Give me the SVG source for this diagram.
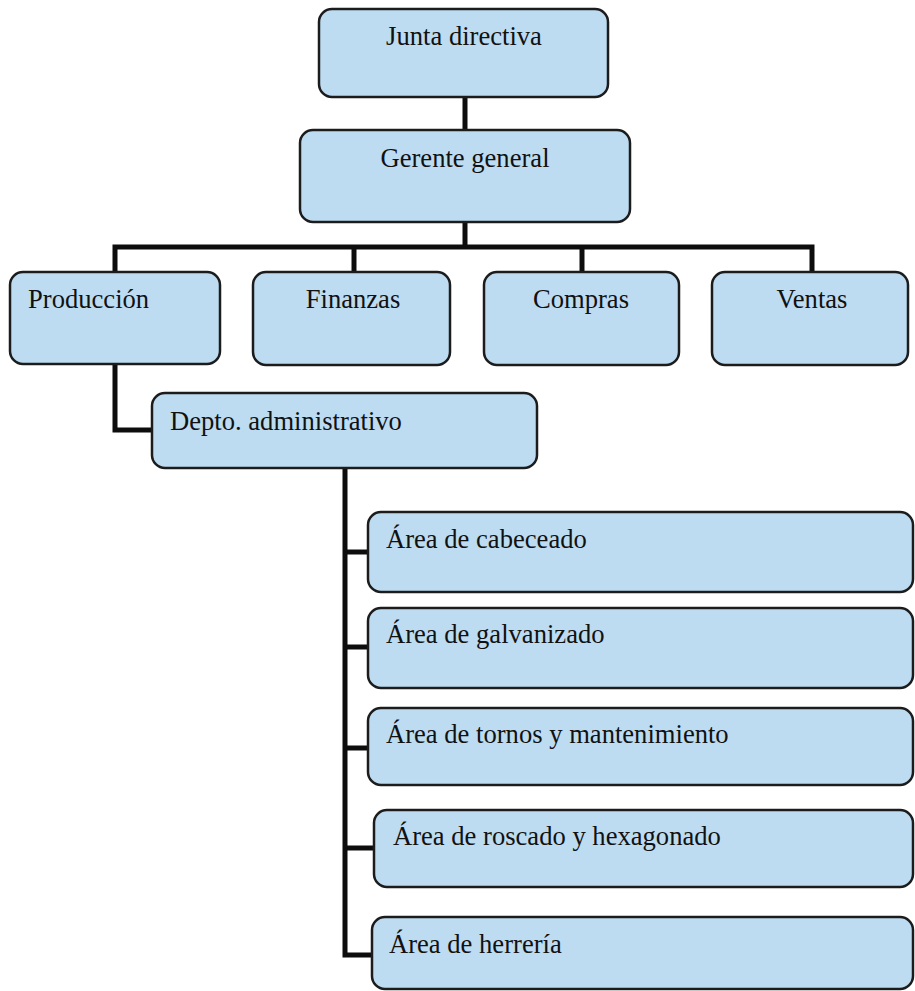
<svg xmlns="http://www.w3.org/2000/svg" width="915" height="991" viewBox="0 0 915 991">
<style>
.box{fill:#bddcf2;stroke:#1c1c1c;stroke-width:2.5}
.t{font-family:"Liberation Serif","Times New Roman","DejaVu Serif",serif;font-size:26.6px;fill:#111}
.c{text-anchor:middle}
.ln{fill:none;stroke:#0d0d0d;stroke-width:5;stroke-linejoin:miter;stroke-linecap:butt}
</style>
<rect width="915" height="991" fill="#ffffff"/>
<g id="connectors">
<path class="ln" d="M465 97 V131"/>
<path class="ln" d="M465 222 V247"/>
<path class="ln" d="M115 273 V247 H812 V273"/>
<path class="ln" d="M354 247 V273"/>
<path class="ln" d="M582 247 V273"/>
<path class="ln" d="M115 364 V430 H153"/>
<path class="ln" d="M345 468 V955 H373"/>
<path class="ln" d="M345 552 H369"/>
<path class="ln" d="M345 647 H369"/>
<path class="ln" d="M345 748 H369"/>
<path class="ln" d="M345 848 H375"/>
</g>
<g id="junta"><rect class="box" x="319" y="9" width="289" height="88" rx="13"/><text class="t c" x="464" y="45">Junta directiva</text></g>
<g id="gerente"><rect class="box" x="300" y="130" width="330" height="92" rx="13"/><text class="t c" x="465" y="167">Gerente general</text></g>
<g id="produccion"><rect class="box" x="10" y="272" width="210" height="92" rx="13"/><text class="t" x="28" y="308">Producción</text></g>
<g id="finanzas"><rect class="box" x="253" y="272" width="197" height="93" rx="13"/><text class="t c" x="353" y="308">Finanzas</text></g>
<g id="compras"><rect class="box" x="484" y="272" width="195" height="93" rx="13"/><text class="t c" x="581" y="308">Compras</text></g>
<g id="ventas"><rect class="box" x="712" y="272" width="196" height="93" rx="13"/><text class="t c" x="812" y="308">Ventas</text></g>
<g id="depto"><rect class="box" x="152" y="393" width="385" height="75" rx="13"/><text class="t" x="170" y="430">Depto. administrativo</text></g>
<g id="cabeceado"><rect class="box" x="368" y="512" width="545" height="80" rx="13"/><text class="t" x="386" y="548">Área de cabeceado</text></g>
<g id="galvanizado"><rect class="box" x="368" y="608" width="545" height="80" rx="13"/><text class="t" x="386" y="643">Área de galvanizado</text></g>
<g id="tornos"><rect class="box" x="368" y="708" width="545" height="77" rx="13"/><text class="t" x="386" y="743">Área de tornos y mantenimiento</text></g>
<g id="roscado"><rect class="box" x="374" y="810" width="539" height="77" rx="13"/><text class="t" x="393" y="845">Área de roscado y hexagonado</text></g>
<g id="herreria"><rect class="box" x="372" y="917" width="541" height="72" rx="13"/><text class="t" x="389" y="953">Área de herrería</text></g>
</svg>
